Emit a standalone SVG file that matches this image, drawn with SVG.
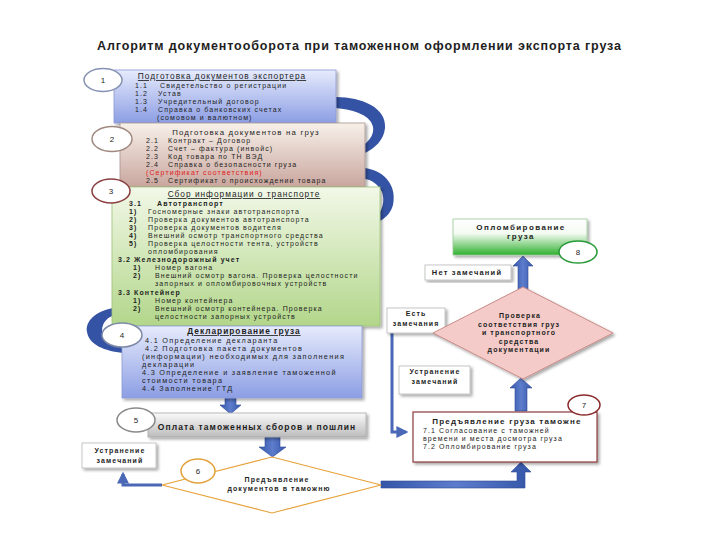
<svg xmlns="http://www.w3.org/2000/svg" width="720" height="540" viewBox="0 0 720 540">
<defs>
<linearGradient id="gBlue" x1="0" y1="0" x2="0" y2="1"><stop offset="0" stop-color="#e6ebfc"/><stop offset="1" stop-color="#8c9ee4"/></linearGradient>
<linearGradient id="gTan" x1="0" y1="0" x2="0" y2="1"><stop offset="0" stop-color="#f7f1ea"/><stop offset="1" stop-color="#c9a69e"/></linearGradient>
<linearGradient id="gGreen" x1="0" y1="0" x2="0" y2="1"><stop offset="0" stop-color="#f2f8e8"/><stop offset="1" stop-color="#b2d68a"/></linearGradient>
<linearGradient id="gGray" x1="0" y1="0" x2="0" y2="1"><stop offset="0" stop-color="#fafafa"/><stop offset="1" stop-color="#bcbcbc"/></linearGradient>
<linearGradient id="gSeal" x1="0" y1="0" x2="0" y2="1"><stop offset="0" stop-color="#ffffff"/><stop offset="0.4" stop-color="#f4fbf2"/><stop offset="1" stop-color="#2fb02f"/></linearGradient>
<linearGradient id="gArrow" x1="0" y1="0" x2="1" y2="0"><stop offset="0" stop-color="#3556a8"/><stop offset="0.5" stop-color="#5d7ccc"/><stop offset="1" stop-color="#3556a8"/></linearGradient>
<filter id="sh" x="-10%" y="-10%" width="125%" height="130%"><feDropShadow dx="2" dy="2" stdDeviation="1.5" flood-color="#000" flood-opacity="0.35"/></filter>
<marker id="ah" viewBox="0 0 10 10" refX="8" refY="5" markerWidth="4" markerHeight="4" orient="auto"><path d="M0,0 L10,5 L0,10 Z" fill="#4a68b6"/></marker>
</defs>
<style>
text { font-family: "Liberation Sans", Arial, sans-serif; fill: #1e1e1e; }
.t { font-size: 7px; letter-spacing: 1.1px; }
.t8 { font-size: 7.3px; letter-spacing: 1.3px; }
.h { font-size: 8.3px; letter-spacing: 1px; text-decoration: underline; }
.b { font-weight: bold; }
.m { text-anchor: middle; }
.num { font-size: 8px; text-anchor: middle; }
.title { font-size: 12.5px; font-weight: bold; text-anchor: middle; }
.oval { fill: #ffffff; stroke-width: 1.5; }
.wbox { fill: #ffffff; stroke: #b8b8b8; stroke-width: 0.8; filter: url(#sh); }
.swoosh { fill: #3553a4; }
.blk { fill: url(#gArrow); stroke: #2f4c9a; stroke-width: 0.6; }
.line { fill: none; stroke: #4a68b6; stroke-width: 3; }
</style>
<rect width="720" height="540" fill="#ffffff"/>
<text class="title" x="359" y="50" textLength="524" lengthAdjust="spacing">Алгоритм документооборота при таможенном оформлении экспорта груза</text>

<g id="connectors">
  <path class="swoosh" d="M336,97 C362,97 387,108 385,128 C384,140 375,148 365,153 L365,144 C371,139 374,133 373,127 C371,116 356,110 336,108 Z"/>
  <path class="swoosh" d="M365,168 C386,171 397,187 393,205 C391,212 387,217 380,221 L380,212 C384,205 384,198 382,192 C378,184 372,180 365,179 Z"/>
  <path class="swoosh" d="M113,308 C96,311 85,321 87,332 C89,345 105,351 123,353 L121,345 C111,343 102,338 102,331 C102,322 108,317 115,315 Z"/>
  <path class="blk" d="M225,398 L236,398 L236,405 L241,405 L230.5,414 L220,405 L225,405 Z"/>
  <path class="blk" d="M265,437 L280,437 L280,447 L286,447 L272.5,457 L259,447 L265,447 Z"/>
  <path class="blk" d="M518,292 L528,292 L528,266 L533,266 L523,256 L513,266 L518,266 Z"/>
  <path class="blk" d="M515,411 L527,411 L527,388 L532,388 L521,378 L510,388 L515,388 Z"/>
  <path class="blk" d="M381,481 L517,481 L517,472 L511,472 L521,462 L531,472 L525,472 L525,488 L381,488 Z"/>
  <path class="line" d="M162,485 L123,485 L123,474" marker-end="url(#ah)"/>
  <path class="line" d="M392,333 L392,432 L406,432" marker-end="url(#ah)"/>
</g>

<g id="box1">
  <rect x="114" y="70" width="222" height="53" fill="url(#gBlue)" stroke="#8e9bd2" stroke-width="0.8" filter="url(#sh)"/>
  <text class="h m" x="222" y="79">Подготовка документов экспортера</text>
  <text class="t" x="135" y="88">1.1</text><text class="t" x="160" y="88">Свидетельство о регистрации</text>
  <text class="t" x="135" y="96">1.2</text><text class="t" x="158" y="96">Устав</text>
  <text class="t" x="135" y="104">1.3</text><text class="t" x="158" y="104">Учредительный договор</text>
  <text class="t" x="135" y="112">1.4</text><text class="t" x="158" y="112">Справка о банковских счетах</text>
  <text class="t" x="157" y="120">(сомовом и валютном)</text>
</g>
<g id="oval1"><ellipse class="oval" cx="103" cy="80" rx="19" ry="11.5" stroke="#8592b4"/><text class="num" x="103" y="83">1</text></g>

<g id="box2">
  <rect x="120" y="123" width="245" height="64" fill="url(#gTan)" stroke="#a89590" stroke-width="0.8" filter="url(#sh)"/>
  <text class="m" x="246" y="135" style="font-size:7.8px;letter-spacing:1.2px">Подготовка документов на груз</text>
  <text class="t" x="146" y="143">2.1</text><text class="t" x="168" y="143">Контракт – Договор</text>
  <text class="t" x="146" y="151">2.2</text><text class="t" x="168" y="151">Счет – фактура (инвойс)</text>
  <text class="t" x="146" y="159">2.3</text><text class="t" x="168" y="159">Код товара по ТН ВЭД</text>
  <text class="t" x="146" y="167">2.4</text><text class="t" x="168" y="167">Справка о безопасности груза</text>
  <text class="t" x="146" y="175" style="fill:#e02020">(Сертификат соответствия)</text>
  <text class="t" x="146" y="183">2.5</text><text class="t" x="168" y="183">Сертификат о происхождении товара</text>
</g>
<g id="oval2"><ellipse class="oval" cx="112" cy="139" rx="20" ry="12.5" stroke="#a08a80"/><text class="num" x="112" y="142">2</text></g>

<g id="box3">
  <rect x="112" y="187" width="268" height="139" fill="url(#gGreen)" stroke="#9fc27a" stroke-width="0.8" filter="url(#sh)"/>
  <text class="h m" x="244" y="197">Сбор информации о транспорте</text>
  <text class="t b" x="129" y="206">3.1</text><text class="t b" x="157" y="206">Автотранспорт</text>
  <text class="t b" x="129" y="214">1)</text><text class="t" x="148" y="214">Госномерные знаки автотранспорта</text>
  <text class="t b" x="129" y="222">2)</text><text class="t" x="148" y="222">Проверка документов автотранспорта</text>
  <text class="t b" x="129" y="230">3)</text><text class="t" x="148" y="230">Проверка документов водителя</text>
  <text class="t b" x="129" y="238">4)</text><text class="t" x="148" y="238">Внешний осмотр транспортного средства</text>
  <text class="t b" x="129" y="246">5)</text><text class="t" x="148" y="246">Проверка целостности тента, устройств</text>
  <text class="t" x="148" y="254">опломбирования</text>
  <text class="t b" x="118" y="262">3.2 Железнодорожный учет</text>
  <text class="t b" x="133" y="270">1)</text><text class="t" x="155" y="270">Номер вагона</text>
  <text class="t b" x="133" y="278">2)</text><text class="t" x="155" y="278">Внешний осмотр вагона. Проверка целостности</text>
  <text class="t" x="155" y="286">запорных и опломбировочных устройств</text>
  <text class="t b" x="118" y="295">3.3 Контейнер</text>
  <text class="t b" x="133" y="303">1)</text><text class="t" x="155" y="303">Номер контейнера</text>
  <text class="t b" x="133" y="311">2)</text><text class="t" x="155" y="311">Внешний осмотр контейнера. Проверка</text>
  <text class="t" x="155" y="319">целостности запорных устройств</text>
</g>
<g id="oval3"><ellipse class="oval" cx="111" cy="191" rx="19" ry="12" stroke="#8a4040"/><text class="num" x="111" y="194">3</text></g>

<g id="box4">
  <rect x="122" y="326" width="240" height="72" fill="url(#gBlue)" stroke="#8e9bd2" stroke-width="0.8" filter="url(#sh)"/>
  <text class="h b m" x="244" y="334">Декларирование груза</text>
  <text class="t8" x="145" y="343">4.1 Определение декларанта</text>
  <text class="t8" x="145" y="351">4.2 Подготовка пакета документов</text>
  <text class="t8" x="142" y="359">(информации) необходимых для заполнения</text>
  <text class="t8" x="142" y="367">декларации</text>
  <text class="t8" x="142" y="375">4.3 Определение и заявление таможенной</text>
  <text class="t8" x="142" y="383">стоимости товара</text>
  <text class="t8" x="142" y="391">4.4 Заполнение ГТД</text>
</g>
<g id="oval4"><ellipse class="oval" cx="122" cy="335" rx="20" ry="12" stroke="#7d8aa8"/><text class="num" x="122" y="338">4</text></g>

<g id="box5">
  <rect x="148" y="413" width="218" height="24" fill="url(#gGray)" stroke="#a8a8a8" stroke-width="0.8" filter="url(#sh)"/>
  <text class="b m" x="257" y="430" style="font-size:8.5px;letter-spacing:1.1px">Оплата таможенных сборов и пошлин</text>
</g>
<g id="oval5"><ellipse class="oval" cx="136" cy="420" rx="19" ry="12" stroke="#8a8a8a"/><text class="num" x="136" y="423">5</text></g>

<g id="fix-left">
  <rect class="wbox" x="82" y="443" width="74" height="25"/>
  <text class="t b m" x="120" y="453">Устранение</text>
  <text class="t b m" x="120" y="463">замечаний</text>
</g>

<g id="diamond6">
  <path d="M272,457 L381,485 L272,513 L162,485 Z" fill="#ffffff" stroke="#e8a23a" stroke-width="1.2"/>
  <text class="t b m" x="277" y="482">Предъявление</text>
  <text class="t b m" x="279" y="491">документов в таможню</text>
</g>
<g id="oval6"><ellipse class="oval" cx="198" cy="471" rx="17" ry="12" stroke="#e3a23c"/><text class="num" x="198" y="474">6</text></g>

<g id="seal">
  <rect x="453" y="219" width="134" height="36" fill="url(#gSeal)" stroke="#9cc89c" stroke-width="0.8" filter="url(#sh)"/>
  <text class="b m" x="521" y="230" style="font-size:8px;letter-spacing:1.4px">Опломбирование</text>
  <text class="b m" x="521" y="239" style="font-size:8px;letter-spacing:1.4px">груза</text>
</g>
<g id="oval8"><ellipse class="oval" cx="578" cy="252" rx="19" ry="11" stroke="#2a9a3a"/><text class="num" x="578" y="255">8</text></g>

<g id="no-remarks">
  <rect class="wbox" x="425" y="265" width="86" height="15"/>
  <text class="b m" x="467" y="275" style="font-size:7.5px;letter-spacing:1.2px">Нет замечаний</text>
</g>

<g id="remarks">
  <rect class="wbox" x="387" y="308" width="58" height="25"/>
  <text class="t b m" x="416" y="316">Есть</text>
  <text class="t b m" x="416" y="326">замечания</text>
</g>

<g id="diamond7">
  <path d="M523,287 L613,333 L523,379 L433,333 Z" fill="#f4cbc8" stroke="#c98c88" stroke-width="1" filter="url(#sh)"/>
  <text class="t b m" x="520" y="318">Проверка</text>
  <text class="t b m" x="519" y="326.5">соответствия груз</text>
  <text class="t b m" x="519" y="335">и транспортного</text>
  <text class="t b m" x="519" y="343.5">средства</text>
  <text class="t b m" x="519" y="352">документации</text>
</g>

<g id="fix-right">
  <rect class="wbox" x="399" y="366" width="71" height="28"/>
  <text class="t b m" x="435" y="374">Устранение</text>
  <text class="t b m" x="435" y="384">замечаний</text>
</g>

<g id="box7">
  <rect x="413" y="412" width="184" height="50" fill="#ffffff" stroke="#8a3a3a" stroke-width="1.2" filter="url(#sh)"/>
  <text class="b m" x="507" y="424" style="font-size:8px;letter-spacing:1.2px">Предъявление груза таможне</text>
  <text class="t" x="423" y="433">7.1 Согласование с таможней</text>
  <text class="t" x="423" y="441">времени и места досмотра груза</text>
  <text class="t" x="423" y="449">7.2 Опломбирование груза</text>
</g>
<g id="oval7"><ellipse class="oval" cx="584" cy="405" rx="16" ry="10" stroke="#8a2a2a"/><text class="num" x="584" y="408">7</text></g>
</svg>
